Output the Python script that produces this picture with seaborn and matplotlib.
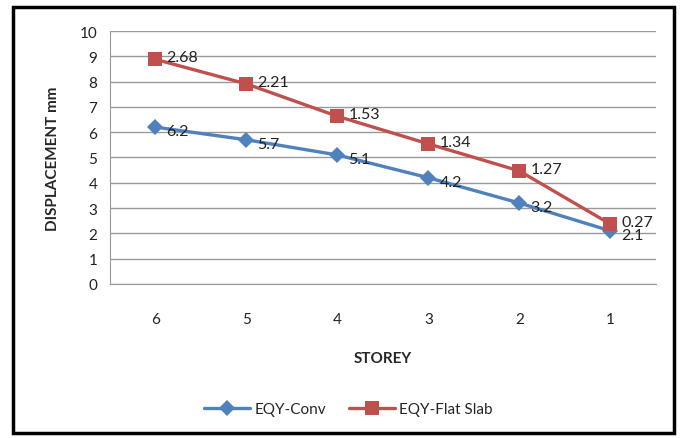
import seaborn as sns
import pandas as pd
import matplotlib.pyplot as plt
from matplotlib.patches import Rectangle

storeys = ['6', '5', '4', '3', '2', '1']
conv = [6.2, 5.7, 5.1, 4.2, 3.2, 2.1]
flat_slab = [2.68, 2.21, 1.53, 1.34, 1.27, 0.27]

# Excel "stacked line": the flat slab series sits on top of the conv one
stacked = [c + f for c, f in zip(conv, flat_slab)]

df = pd.DataFrame({
    'Storey': storeys * 2,
    'Value': conv + stacked,
    'Label': conv + flat_slab,
    'Series': ['EQY-Conv'] * 6 + ['EQY-Flat Slab'] * 6,
})

sns.set_style('white')
plt.rcParams['font.family'] = ['Lato', 'DejaVu Sans']

fig = plt.figure(figsize=(6.83, 4.39), dpi=100)
ax = fig.add_axes([0.161, 0.351, 0.799, 0.576])

palette = {'EQY-Conv': '#4F81BD', 'EQY-Flat Slab': '#C0504D'}
sns.lineplot(data=df, x='Storey', y='Value', hue='Series', style='Series',
             markers={'EQY-Conv': 'D', 'EQY-Flat Slab': 's'},
             dashes=False, palette=palette, linewidth=2.4,
             markersize=8, markeredgewidth=0, sort=False, ax=ax)
for line in ax.lines:
    if line.get_marker() == 's':
        line.set_markersize(10)

for i, row in df.iterrows():
    x = storeys.index(row['Storey'])
    dy = -3 if row['Series'] == 'EQY-Conv' else 1.5
    ax.annotate(f"{row['Label']:g}", (x, row['Value']), xytext=(8, dy),
                textcoords='offset points', ha='left', va='center',
                fontsize=11.5, color='#222222')

ax.set_xlim(-0.5, 5.5)
ax.set_ylim(0, 10)
ax.set_yticks(range(0, 11))
ax.yaxis.grid(True, color='#999999', linewidth=1)
ax.xaxis.grid(False)
for side in ['top', 'right']:
    ax.spines[side].set_visible(False)
ax.spines['left'].set_color('#999999')
ax.spines['bottom'].set_color('#999999')
ax.tick_params(axis='both', labelsize=11, length=0, pad=9, colors='#222222')
ax.tick_params(axis='x', pad=20)

ax.set_xlabel('STOREY', fontsize=11, fontweight='bold', labelpad=18)
ax.set_ylabel('DISPLACEMENT mm', fontsize=11, fontweight='bold', labelpad=14)

handles, labels = ax.get_legend_handles_labels()
for h in handles:
    h.set_linewidth(2.4)
ax.legend(handles, labels, loc='center', bbox_to_anchor=(0.51, 0.066),
          bbox_transform=fig.transFigure, ncol=2, frameon=False,
          fontsize=11, handlelength=3, columnspacing=1.5, handletextpad=0.3)

fig.patches.append(Rectangle((0.019, 0.012), 0.968, 0.97, transform=fig.transFigure,
                             fill=False, edgecolor='black', linewidth=2.5))

fig.savefig('out.png', dpi=100)
